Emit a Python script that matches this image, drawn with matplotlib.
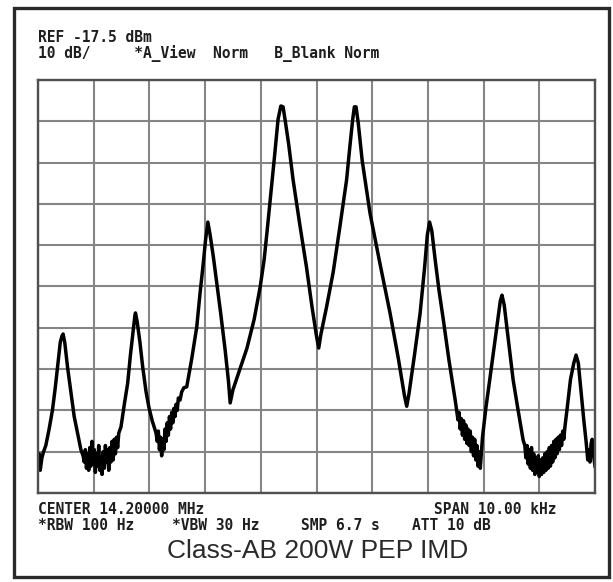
import matplotlib.pyplot as plt
from matplotlib.patches import Rectangle

W, H = 613, 582

# analyzer settings shown on the screen
ref_level = -17.5      # dBm, top graticule line
db_per_div = 10
span_khz = 10.0

# trace: offset from 14.200 MHz in kHz, level in dBm
freq_khz = [
    -5.00, -4.98, -4.96, -4.93, -4.90, -4.86, -4.80, -4.74, -4.69, -4.65,
    -4.60, -4.57, -4.55, -4.52, -4.47, -4.41, -4.35, -4.29, -4.23, -4.19,
    -4.17, -4.15, -4.13, -4.11, -4.09, -4.07, -4.05, -4.03, -4.01, -3.99,
    -3.97, -3.95, -3.93, -3.91, -3.89, -3.87, -3.85, -3.83, -3.81, -3.79,
    -3.77, -3.75, -3.73, -3.71, -3.69, -3.67, -3.65, -3.63, -3.61, -3.59,
    -3.57, -3.55, -3.51, -3.45, -3.39, -3.34, -3.29, -3.26, -3.25, -3.22,
    -3.17, -3.12, -3.06, -3.01, -2.95, -2.88, -2.86, -2.84, -2.82, -2.80,
    -2.78, -2.76, -2.74, -2.72, -2.70, -2.68, -2.66, -2.64, -2.62, -2.60,
    -2.58, -2.56, -2.54, -2.52, -2.50, -2.48, -2.45, -2.42, -2.38, -2.33,
    -2.24, -2.15, -2.09, -2.04, -1.99, -1.95, -1.91, -1.85, -1.79, -1.72,
    -1.64, -1.58, -1.55, -1.50, -1.40, -1.25, -1.12, -1.01, -0.94, -0.89,
    -0.82, -0.75, -0.69, -0.64, -0.60, -0.56, -0.50, -0.42, -0.30, -0.18,
    -0.08, 0.00, 0.04, 0.08, 0.18, 0.30, 0.42, 0.54, 0.60, 0.65,
    0.68, 0.71, 0.75, 0.82, 0.96, 1.14, 1.32, 1.47, 1.58, 1.62,
    1.66, 1.76, 1.86, 1.94, 1.99, 2.03, 2.07, 2.13, 2.20, 2.27,
    2.38, 2.49, 2.54, 2.56, 2.58, 2.60, 2.62, 2.64, 2.66, 2.68,
    2.70, 2.72, 2.74, 2.76, 2.78, 2.80, 2.82, 2.84, 2.86, 2.88,
    2.90, 2.92, 2.94, 2.98, 3.04, 3.11, 3.18, 3.25, 3.30, 3.33,
    3.37, 3.44, 3.53, 3.62, 3.71, 3.74, 3.76, 3.78, 3.80, 3.82,
    3.84, 3.86, 3.88, 3.90, 3.92, 3.94, 3.96, 3.98, 4.00, 4.02,
    4.04, 4.06, 4.08, 4.10, 4.12, 4.14, 4.16, 4.18, 4.20, 4.22,
    4.24, 4.26, 4.28, 4.30, 4.32, 4.34, 4.36, 4.38, 4.40, 4.42,
    4.44, 4.46, 4.50, 4.56, 4.62, 4.66, 4.70, 4.75, 4.80, 4.84,
    4.87, 4.89, 4.91, 4.93, 4.95, 4.97, 4.99, 5.00,
]
level_dbm = [
    -111.5, -108.0, -112.0, -109.0, -107.5, -106.0, -102.0, -97.4, -92.0, -87.0,
    -81.0, -79.5, -79.0, -81.0, -87.0, -93.0, -99.0, -103.0, -107.0, -108.5,
    -110.0, -107.0, -111.5, -108.0, -112.0, -106.5, -111.0, -105.0, -110.5, -107.0,
    -112.5, -108.0, -111.0, -106.0, -112.0, -109.0, -113.0, -107.5, -111.5, -106.0,
    -110.0, -107.0, -112.0, -106.5, -110.0, -105.0, -109.5, -104.5, -108.0, -104.0,
    -106.5, -103.0, -101.5, -96.0, -90.9, -84.0, -78.0, -74.5, -73.9, -76.0,
    -81.0, -87.0, -93.0, -96.7, -100.0, -103.0, -105.0, -102.5, -107.0, -104.0,
    -108.5, -104.5, -107.0, -102.0, -105.0, -100.5, -103.5, -99.0, -102.0, -98.0,
    -100.5, -97.0, -99.0, -96.0, -97.5, -94.5, -95.0, -93.0, -92.0, -91.8,
    -85.0, -77.3, -69.0, -62.8, -56.0, -51.9, -55.0, -60.5, -66.7, -74.0,
    -82.9, -90.5, -95.7, -92.5, -88.5, -82.5, -75.5, -67.5, -61.0, -54.5,
    -45.0, -35.5, -27.0, -23.8, -24.0, -27.5, -33.0, -41.7, -52.5, -62.8,
    -72.5, -79.5, -82.4, -79.0, -72.5, -64.0, -53.0, -41.7, -33.5, -27.0,
    -24.0, -24.0, -28.0, -37.0, -49.7, -62.0, -73.9, -85.0, -94.0, -96.5,
    -93.5, -84.0, -74.0, -63.0, -55.0, -51.9, -54.0, -61.0, -68.5, -74.9,
    -85.5, -95.0, -99.8, -98.0, -102.0, -99.5, -103.5, -100.0, -104.5, -101.0,
    -105.5, -102.0, -106.0, -102.5, -107.5, -104.0, -108.5, -104.5, -109.5, -106.0,
    -111.0, -107.5, -111.5, -104.0, -97.0, -90.1, -83.0, -76.0, -71.0, -69.6,
    -72.0, -80.0, -90.1, -97.5, -104.7, -106.0, -109.0, -106.0, -110.5, -107.0,
    -111.5, -106.5, -112.0, -108.0, -113.0, -109.0, -112.5, -108.5, -113.5, -109.5,
    -113.0, -109.0, -112.5, -108.0, -112.0, -107.5, -111.5, -106.5, -111.0, -106.0,
    -110.0, -105.0, -109.0, -104.5, -108.0, -104.0, -107.0, -103.5, -106.0, -102.5,
    -104.5, -101.5, -97.0, -90.0, -86.0, -84.1, -86.0, -93.0, -100.0, -105.0,
    -109.5, -107.0, -110.0, -105.5, -104.5, -108.0, -110.0, -111.0,
]

header = ["REF -17.5 dBm", "10 dB/     *A_View  Norm   B_Blank Norm"]
footer_left = ["CENTER 14.20000 MHz", "*RBW 100 Hz"]
footer_mid = [("*VBW 30 Hz", 172), ("SMP 6.7 s", 301), ("ATT 10 dB", 412)]
span_text = "SPAN 10.00 kHz"
caption = "Class-AB 200W PEP IMD"

fig = plt.figure(figsize=(W / 100, H / 100), dpi=100)
fig.patch.set_facecolor("white")

# outer screen frame
fig.add_artist(Rectangle((14 / W, 1 - 577 / H), 595 / W, 569 / H,
                         transform=fig.transFigure, fill=False,
                         edgecolor="#2a2a2a", linewidth=2.4))

ax = fig.add_axes([38 / W, 1 - 493 / H, 557 / W, 413 / H])
ax.plot(freq_khz, level_dbm, color="black", linewidth=2.5,
        solid_joinstyle="round")
ax.set_xlim(-span_khz / 2, span_khz / 2)
ax.set_ylim(ref_level - 10 * db_per_div, ref_level)
ax.set_xticks([-5 + i for i in range(11)])
ax.set_yticks([ref_level - db_per_div * i for i in range(11)])
ax.tick_params(length=0, labelbottom=False, labelleft=False)
ax.grid(True, color="#858585", linewidth=1.5)
ax.set_axisbelow(True)
for s in ax.spines.values():
    s.set_color("#505050")
    s.set_linewidth(1.7)

mono = dict(family="DejaVu Sans Mono", weight="bold", size=10.5,
            color="#1e1e1e", va="center")

def fx(px):
    return px / W

def fy(py):
    return 1 - py / H

fig.text(fx(38), fy(38), header[0], **mono)
fig.text(fx(38), fy(54), header[1], **mono)
fig.text(fx(38), fy(510), footer_left[0], **mono)
fig.text(fx(38), fy(525), footer_left[1], **mono)
for label, px in footer_mid:
    fig.text(fx(px), fy(525), label, **mono)
fig.text(fx(557), fy(510), span_text, ha="right", **mono)

fig.text(fx(318), fy(551), caption, family="Liberation Sans", size=19,
         color="#2a2a2a", ha="center", va="center")

fig.savefig("out.png", dpi=100)
